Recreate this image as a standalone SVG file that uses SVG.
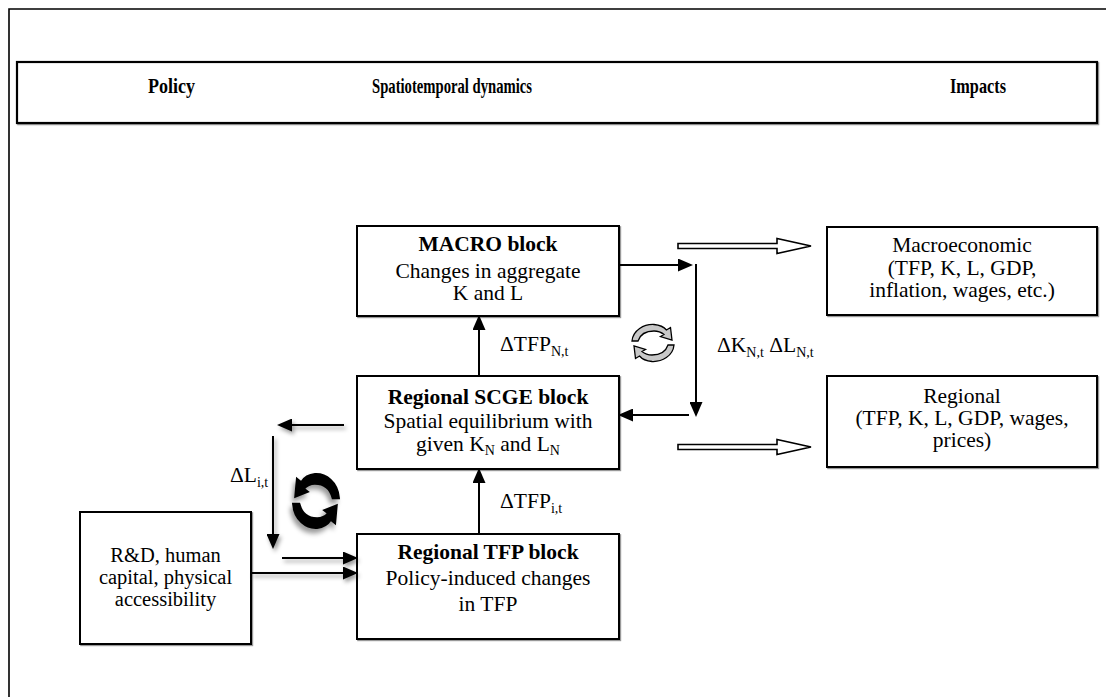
<svg xmlns="http://www.w3.org/2000/svg" width="1106" height="697" viewBox="0 0 1106 697">
<style>
  text { font-family: "Liberation Serif", "Times New Roman", serif; fill: #000; }
  .t { font-size: 21.5px; text-anchor: middle; }
  .s { font-size: 20.5px; text-anchor: middle; }
  .b { font-weight: bold; }
  .h { font-size: 21px; font-weight: bold; }
  .sub { font-size: 14px; }
  .box { fill: #fff; stroke: #000; stroke-width: 2; }
  .ln { stroke: #000; stroke-width: 2; fill: none; }
  .hol { fill: #fff; stroke: #000; stroke-width: 1.6; }
  .lab { font-size: 21.5px; }
</style>
<defs>
  <marker id="ah" viewBox="0 0 15 13" markerWidth="15" markerHeight="13" refX="6" refY="6.5" orient="auto" markerUnits="userSpaceOnUse">
    <path d="M0,0 L15,6.5 L0,13 Z" fill="#000"/>
  </marker>
  <filter id="sh" x="-30%" y="-30%" width="160%" height="160%">
    <feDropShadow dx="2" dy="3" stdDeviation="2" flood-color="#000" flood-opacity="0.4"/>
  </filter>
  <filter id="bs" x="-5%" y="-5%" width="110%" height="110%">
    <feDropShadow dx="1.2" dy="1.2" stdDeviation="0.6" flood-color="#000" flood-opacity="0.4"/>
  </filter>
  <path id="cyc" d="M-21,-2 C-20,-13 -9,-19 1,-18.5 C7,-18 11,-16 13.5,-13 L17.5,-15.5 L19,-3 L7.5,-6.5 L11,-8.5 C8,-11 5,-12 1,-12 C-8,-12 -13,-8 -15,-2 Z"/>
</defs>

<path d="M9,697 V9 H1106" fill="none" stroke="#000" stroke-width="1.6"/>

<g id="header">
  <rect x="17" y="62" width="1080" height="61" fill="#fff" stroke="#000" stroke-width="2.2" filter="url(#bs)"/>
  <text class="h" x="148" y="93" textLength="47" lengthAdjust="spacingAndGlyphs">Policy</text>
  <text class="h" x="372" y="93" textLength="160" lengthAdjust="spacingAndGlyphs">Spatiotemporal dynamics</text>
  <text class="h" x="950" y="93" textLength="56" lengthAdjust="spacingAndGlyphs">Impacts</text>
</g>

<g id="macro">
  <rect class="box" x="357" y="226" width="262" height="90" filter="url(#bs)"/>
  <text class="t b" x="488" y="251">MACRO block</text>
  <text class="t" x="488" y="278">Changes in aggregate</text>
  <text class="t" x="488" y="300">K and L</text>
</g>

<g id="scge">
  <rect class="box" x="357" y="376" width="262" height="93" filter="url(#bs)"/>
  <text class="t b" x="488" y="404">Regional SCGE block</text>
  <text class="t" x="488" y="428">Spatial equilibrium with</text>
  <text class="t" x="488" y="451">given K<tspan class="sub" dy="4">N</tspan><tspan dy="-4"> and L</tspan><tspan class="sub" dy="4">N</tspan></text>
</g>

<g id="tfp">
  <rect class="box" x="357" y="534" width="262" height="105" filter="url(#bs)"/>
  <text class="t b" x="488" y="559">Regional TFP block</text>
  <text class="t" x="488" y="585">Policy-induced changes</text>
  <text class="t" x="488" y="611">in TFP</text>
</g>

<g id="policy">
  <rect class="box" x="80" y="512" width="171" height="132" filter="url(#bs)"/>
  <text class="s" x="165.5" y="562">R&amp;D, human</text>
  <text class="s" x="165.5" y="584">capital, physical</text>
  <text class="s" x="165.5" y="606">accessibility</text>
</g>

<g id="macroeconomic">
  <rect class="box" x="827" y="227" width="270" height="88" filter="url(#bs)"/>
  <text class="t" x="962" y="252">Macroeconomic</text>
  <text class="t" x="962" y="275">(TFP, K, L, GDP,</text>
  <text class="t" x="962" y="297">inflation, wages, etc.)</text>
</g>

<g id="regional">
  <rect class="box" x="827" y="376" width="270" height="91" filter="url(#bs)"/>
  <text class="t" x="962" y="403">Regional</text>
  <text class="t" x="962" y="425">(TFP, K, L, GDP, wages,</text>
  <text class="t" x="962" y="447">prices)</text>
</g>

<g id="connectors">
  <line class="ln" x1="619" y1="265" x2="684" y2="265" marker-end="url(#ah)"/>
  <line class="ln" x1="696" y1="264" x2="696" y2="408" marker-end="url(#ah)"/>
  <line class="ln" x1="689" y1="415" x2="627" y2="415" marker-end="url(#ah)"/>
  <line class="ln" x1="479" y1="376" x2="479" y2="324" marker-end="url(#ah)"/>
  <line class="ln" x1="479" y1="534" x2="479" y2="477" marker-end="url(#ah)"/>
  <g filter="url(#sh)">
    <line class="ln" x1="344" y1="425" x2="286" y2="425" marker-end="url(#ah)"/>
    <line class="ln" x1="273" y1="436" x2="273" y2="540" marker-end="url(#ah)"/>
    <line class="ln" x1="282" y1="558" x2="349" y2="558" marker-end="url(#ah)"/>
    <line class="ln" x1="251" y1="573" x2="349" y2="573" marker-end="url(#ah)"/>
  </g>
  <polygon class="hol" points="678,243.5 777,243.5 777,238.5 811,246 777,253.5 777,248.5 678,248.5"/>
  <polygon class="hol" points="678,444.5 777,444.5 777,439.5 811,447 777,454.5 777,449.5 678,449.5"/>

  <g id="cycle-gray" transform="translate(653,343)" fill="#c8c8c8" stroke="#000" stroke-width="1.3">
    <use href="#cyc"/>
    <use href="#cyc" transform="rotate(180)"/>
  </g>
  <g id="cycle-black" transform="translate(316,501) scale(-1.1,1.45)" fill="#000" stroke="#000" stroke-width="1.5" filter="url(#sh)">
    <use href="#cyc"/>
    <use href="#cyc" transform="rotate(180)"/>
  </g>

  <text class="lab" x="500" y="351">ΔTFP<tspan class="sub" dy="5">N,t</tspan></text>
  <text class="lab" x="717" y="352">ΔK<tspan class="sub" dy="5">N,t</tspan><tspan dy="-5"> ΔL</tspan><tspan class="sub" dy="5">N,t</tspan></text>
  <text class="lab" x="500" y="508">ΔTFP<tspan class="sub" dy="5">i,t</tspan></text>
  <text class="lab" x="230" y="482">ΔL<tspan class="sub" dy="5">i,t</tspan></text>
</g>
</svg>
